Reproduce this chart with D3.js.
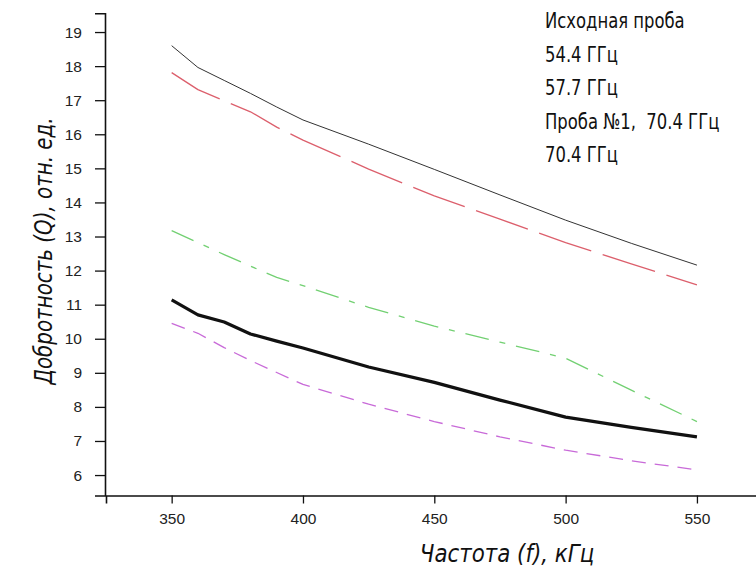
<!DOCTYPE html>
<html>
<head>
<meta charset="utf-8">
<script src="https://cdn.jsdelivr.net/npm/d3@7"></script>
<style>
    body { margin: 0; background: #fff; }
    svg { display: block; }
</style>
</head>
<body>
<svg id="chart"></svg>
<script>
// данные (частота, кГц / добротность)
const freqs = [350, 360, 370, 380, 390, 400, 425, 450, 475, 500, 525, 550];

const seriesNames = ["Исходная проба", "54.4 ГГц", "57.7 ГГц", "Проба №1,  70.4 ГГц", "70.4 ГГц"];

const qInitial = [18.60, 17.96, 17.58, 17.20, 16.80, 16.42, 15.71, 14.97, 14.22, 13.48, 12.80, 12.16];
const q544 = [17.81, 17.31, 16.98, 16.66, 16.21, 15.83, 14.98, 14.19, 13.51, 12.82, 12.20, 11.58];
const q577 = [13.17, 12.82, 12.47, 12.13, 11.80, 11.56, 10.92, 10.37, 9.90, 9.43, 8.49, 7.57];
const qSample1 = [11.14, 10.70, 10.49, 10.14, 9.93, 9.73, 9.17, 8.72, 8.20, 7.70, 7.40, 7.12];
const q704 = [10.45, 10.16, 9.74, 9.36, 9.01, 8.66, 8.08, 7.57, 7.12, 6.73, 6.42, 6.15];

const xTicks = [350, 400, 450, 500, 550];
const yTicks = [6, 7, 8, 9, 10, 11, 12, 13, 14, 15, 16, 17, 18, 19];

const width = 756;
const height = 575;

const svg = d3.select("#chart")
    .attr("width", width)
    .attr("height", height);

const x = d3.scaleLinear()
    .domain([325, 575])
    .range([106, 762.6]);

const y = d3.scaleLinear()
    .domain([5.4, 19.55])
    .range([495.5, 13.3]);

const styles = [
    { data: qInitial, color: "#333", w: 1, dash: null },
    { data: q544, color: "#dc5f6c", w: 1.3, dash: "55,12" },
    { data: q577, color: "#72d072", w: 1.3, dash: "24,11,6,11" },
    { data: qSample1, color: "#111", w: 3.2, dash: null },
    { data: q704, color: "#c86ad8", w: 1.3, dash: "14,9" }
];

const line = d3.line()
    .x((d, i) => x(freqs[i]))
    .y(d => y(d));

styles.forEach(s => {
    svg.append("path")
        .datum(s.data)
        .attr("d", line)
        .attr("fill", "none")
        .attr("stroke", s.color)
        .attr("stroke-width", s.w)
        .attr("stroke-dasharray", s.dash)
        .attr("stroke-linejoin", "round");
});

// оси
const tickFont = "'Liberation Sans', Arial, sans-serif";

const xMinor = d3.range(325, 576, 25).filter(v => !xTicks.includes(v));
const yMinor = d3.range(5.5, 19.6, 0.5).filter(v => !yTicks.includes(v));

const gx = svg.append("g")
    .attr("transform", `translate(0,${y(5.4)})`);

gx.call(d3.axisBottom(x).tickValues(xMinor).tickSize(4).tickFormat(""));
gx.call(d3.axisBottom(x).tickValues(xTicks).tickSize(8).tickPadding(9));

const gy = svg.append("g")
    .attr("transform", `translate(${x(325) - 1},0)`);

gy.call(d3.axisLeft(y).tickValues(yMinor).tickSize(5).tickFormat(""));
gy.call(d3.axisLeft(y).tickValues(yTicks).tickSize(10).tickPadding(13));

svg.selectAll(".domain")
    .attr("stroke", "#111")
    .attr("stroke-width", 1.6);

svg.selectAll(".tick line")
    .attr("stroke", "#111")
    .attr("stroke-width", 1.3);

svg.selectAll(".tick text")
    .attr("font-family", tickFont)
    .attr("font-size", 15.5)
    .attr("fill", "#222");

// подписи осей
const titleFont = "'DejaVu Sans Condensed', 'DejaVu Sans', sans-serif";

svg.append("text")
    .attr("transform", "translate(52,251) rotate(-90) scale(0.92,1)")
    .attr("text-anchor", "middle")
    .attr("font-family", titleFont)
    .attr("font-style", "italic")
    .attr("font-size", 24)
    .attr("fill", "#111")
    .text("Добротность (Q), отн. ед.");

svg.append("text")
    .attr("transform", "translate(507,562) scale(0.95,1)")
    .attr("text-anchor", "middle")
    .attr("font-family", titleFont)
    .attr("font-style", "italic")
    .attr("font-size", 25)
    .attr("fill", "#111")
    .text("Частота (f), кГц");

// легенда
svg.selectAll(".legend")
    .data(seriesNames)
    .enter()
    .append("text")
    .attr("class", "legend")
    .attr("transform", (d, i) => `translate(545,${28 + i * 33.5}) scale(0.83,1)`)
    .attr("font-family", titleFont)
    .attr("font-size", 22)
    .attr("fill", "#111")
    .style("white-space", "pre")
    .text(d => d);
</script>
</body>
</html>
